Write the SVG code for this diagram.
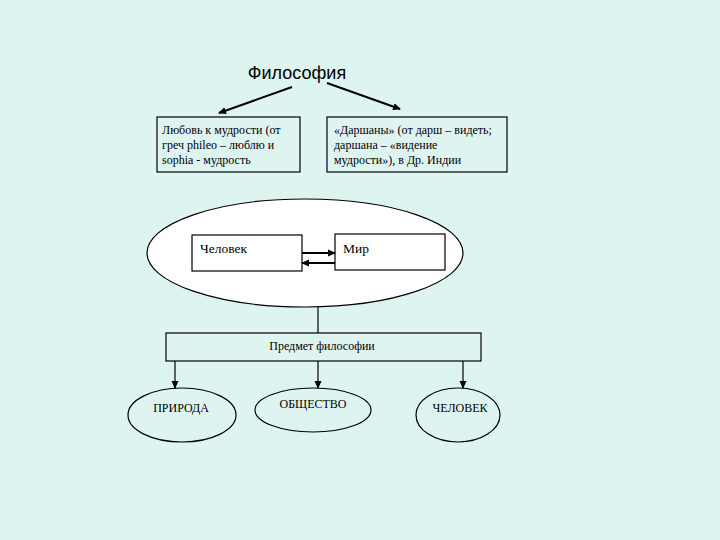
<svg xmlns="http://www.w3.org/2000/svg" width="720" height="540" viewBox="0 0 720 540">
<defs>
<marker id="ah" markerWidth="8" markerHeight="8" refX="7" refY="4" orient="auto" markerUnits="userSpaceOnUse">
<path d="M0,0.5 L8,4 L0,7.5 Z" fill="#000"/>
</marker>
<style>
.bx{fill:none;stroke:#000;stroke-width:1.2}
.wb{fill:#fff;stroke:#000;stroke-width:1.2}
.ln{stroke:#000;stroke-width:1.2;fill:none}
.bl{stroke:#000;stroke-width:2;fill:none}
.t{font-family:"Liberation Serif",serif;font-size:12px;fill:#000}
.tm{font-family:"Liberation Serif",serif;font-size:13.5px;fill:#000}
.h{font-family:"Liberation Sans",sans-serif;font-size:18px;fill:#000}
</style>
</defs>
<rect width="720" height="540" fill="#DEF4F0"/>
<g id="title"><text class="h" x="297" y="79" text-anchor="middle">Философия</text></g>
<g id="love">
<rect class="bx" x="157" y="117" width="143" height="55"/>
<text class="t" x="162" y="134">Любовь к мудрости (от</text>
<text class="t" x="162" y="149">греч phileo – люблю и</text>
<text class="t" x="162" y="164">sophia - мудрость</text>
</g>
<g id="darshan">
<rect class="bx" x="327" y="117" width="180" height="55"/>
<text class="t" x="334" y="134">«Даршаны» (от дарш – видеть;</text>
<text class="t" x="334" y="149">даршана – «видение</text>
<text class="t" x="334" y="164">мудрости»), в Др. Индии</text>
</g>
<g id="world-ellipse">
<ellipse cx="305" cy="253" rx="158" ry="54" fill="#fff" stroke="#000" stroke-width="1.2"/>
</g>
<g id="man">
<rect class="wb" x="192" y="235" width="110" height="36"/>
<text class="tm" x="200" y="253">Человек</text>
</g>
<g id="world">
<rect class="wb" x="335" y="234" width="110" height="36"/>
<text class="tm" x="343" y="253">Мир</text>
</g>
<g id="subject">
<rect class="bx" x="166" y="333" width="315" height="28"/>
<text class="t" x="322" y="350" text-anchor="middle">Предмет философии</text>
</g>
<g id="nature">
<ellipse class="bx" cx="182" cy="415" rx="54" ry="27"/>
<text class="t" x="181" y="412" text-anchor="middle">ПРИРОДА</text>
</g>
<g id="society">
<ellipse class="bx" cx="313" cy="410" rx="58" ry="22"/>
<text class="t" x="313" y="408" text-anchor="middle">ОБЩЕСТВО</text>
</g>
<g id="human">
<ellipse class="bx" cx="458" cy="415" rx="42" ry="27"/>
<text class="t" x="460" y="412" text-anchor="middle">ЧЕЛОВЕК</text>
</g>
<g id="connectors">
<line class="bl" x1="292" y1="87" x2="219" y2="113" marker-end="url(#ah)"/>
<line class="bl" x1="327" y1="83" x2="400" y2="109" marker-end="url(#ah)"/>
<line class="bl" x1="302" y1="253" x2="335" y2="253" marker-end="url(#ah)"/>
<line class="bl" x1="335" y1="263" x2="302" y2="263" marker-end="url(#ah)"/>
<line class="ln" x1="318" y1="307" x2="318" y2="333"/>
<line class="ln" x1="175" y1="361" x2="175" y2="388" marker-end="url(#ah)"/>
<line class="ln" x1="318" y1="361" x2="318" y2="388" marker-end="url(#ah)"/>
<line class="ln" x1="463" y1="361" x2="463" y2="388" marker-end="url(#ah)"/>
</g>
</svg>
